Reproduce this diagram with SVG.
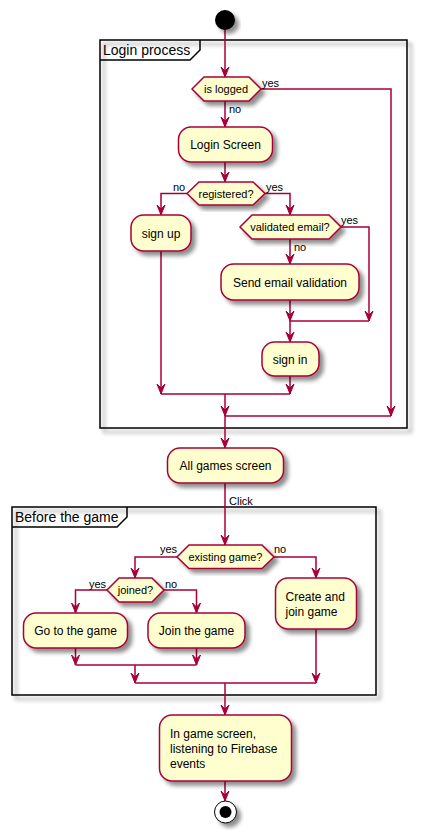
<svg xmlns="http://www.w3.org/2000/svg" width="423" height="839" viewBox="0 0 423 839">
<defs>
<filter id="sh" x="-20%" y="-20%" width="150%" height="150%">
<feGaussianBlur in="SourceAlpha" stdDeviation="2" result="b"/>
<feOffset in="b" dx="4" dy="4" result="o"/>
<feComponentTransfer in="o" result="c"><feFuncA type="linear" slope="0.45"/></feComponentTransfer>
<feMerge><feMergeNode in="c"/><feMergeNode in="SourceGraphic"/></feMerge>
</filter>
<marker id="ah" markerWidth="10" markerHeight="12" viewBox="-5 -11 10 12" refX="0" refY="0" orient="auto-start-reverse" markerUnits="userSpaceOnUse">
<path d="M-4,-10 L0,0 L4,-10 L0,-6 Z" fill="#A80036" stroke="#A80036" stroke-width="1" transform="rotate(-90)"/>
</marker>
</defs>
<style>
.act{fill:#FEFECE;stroke:#A80036;stroke-width:1.5;filter:url(#sh)}
.frm{fill:none;stroke:#000;stroke-width:1.5;filter:url(#sh)}
.ln{fill:none;stroke:#A80036;stroke-width:1.5}
.t12{font-family:"Liberation Sans",Arial,sans-serif;font-size:12px;fill:#000}
.t11{font-family:"Liberation Sans",Arial,sans-serif;font-size:11px;fill:#000}
.t14{font-family:"Liberation Sans",Arial,sans-serif;font-size:14px;fill:#000}
.c{text-anchor:middle}
.ar{fill:#A80036;stroke:#A80036;stroke-width:1}
</style>
<rect width="423" height="839" fill="#fff"/>

<g id="frame-login">
<rect class="frm" x="100" y="40" width="307" height="388"/>
<path d="M100,60 L190,60 L200,50 L200,40" fill="none" stroke="#000" stroke-width="1.5"/>
<text class="t14" x="103" y="55">Login process</text>
</g>
<g id="frame-before">
<rect class="frm" x="12" y="507" width="364" height="188"/>
<path d="M12,527 L117,527 L127,517 L127,507" fill="none" stroke="#000" stroke-width="1.5"/>
<text class="t14" x="15" y="522">Before the game</text>
</g>

<g id="connectors">
<!-- start to is logged -->
<path class="ln" d="M225,30 V77"/>
<path class="ar" d="M221,67 L225,77 L229,67 L225,71 Z"/>
<!-- yes -->
<path class="ln" d="M261,89 H391 V416"/>
<path class="ar" d="M387,406 L391,416 L395,406 L391,410 Z"/>
<text class="t11" x="262" y="87">yes</text>
<!-- no -->
<path class="ln" d="M225,101 V127"/>
<path class="ar" d="M221,117 L225,127 L229,117 L225,121 Z"/>
<text class="t11" x="229" y="113">no</text>
<!-- login screen to registered -->
<path class="ln" d="M225,162 V182"/>
<path class="ar" d="M221,172 L225,182 L229,172 L225,176 Z"/>
<!-- registered no -->
<path class="ln" d="M187,193.5 H161 V215"/>
<path class="ar" d="M157,205 L161,215 L165,205 L161,209 Z"/>
<text class="t11" x="173" y="191">no</text>
<!-- registered yes -->
<path class="ln" d="M265,193.5 H290 V215"/>
<path class="ar" d="M286,205 L290,215 L294,205 L290,209 Z"/>
<text class="t11" x="266" y="191">yes</text>
<!-- validated yes -->
<path class="ln" d="M341,227 H369 V321"/>
<path class="ar" d="M365,311 L369,321 L373,311 L369,315 Z"/>
<text class="t11" x="341" y="224">yes</text>
<!-- validated no -->
<path class="ln" d="M290,239 V264"/>
<path class="ar" d="M286,254 L290,264 L294,254 L290,258 Z"/>
<text class="t11" x="294" y="251">no</text>
<!-- send to merge -->
<path class="ln" d="M290,300 V321"/>
<path class="ar" d="M286,311 L290,321 L294,311 L290,315 Z"/>
<path class="ln" d="M290,321 H369"/>
<!-- merge to sign in -->
<path class="ln" d="M290,321 V342"/>
<path class="ar" d="M286,332 L290,342 L294,332 L290,336 Z"/>
<!-- sign in down -->
<path class="ln" d="M290,376 V394"/>
<path class="ar" d="M286,384 L290,394 L294,384 L290,388 Z"/>
<!-- sign up down -->
<path class="ln" d="M161,251 V394"/>
<path class="ar" d="M157,384 L161,394 L165,384 L161,388 Z"/>
<path class="ln" d="M161,394 H290"/>
<!-- to big merge -->
<path class="ln" d="M225,394 V416"/>
<path class="ar" d="M221,406 L225,416 L229,406 L225,410 Z"/>
<path class="ln" d="M225,416 H391"/>
<!-- to all games -->
<path class="ln" d="M225,416 V448"/>
<path class="ar" d="M221,438 L225,448 L229,438 L225,442 Z"/>
<!-- all games to existing -->
<path class="ln" d="M225,483 V545"/>
<path class="ar" d="M221,535 L225,545 L229,535 L225,539 Z"/>
<text class="t11" x="229" y="505">Click</text>
<!-- existing yes -->
<path class="ln" d="M177,557 H135 V578"/>
<path class="ar" d="M131,568 L135,578 L139,568 L135,572 Z"/>
<text class="t11" x="160" y="553">yes</text>
<!-- existing no -->
<path class="ln" d="M274,557 H316 V578"/>
<path class="ar" d="M312,568 L316,578 L320,568 L316,572 Z"/>
<text class="t11" x="274" y="553">no</text>
<!-- joined yes -->
<path class="ln" d="M107,590 H75.5 V613"/>
<path class="ar" d="M71.5,603 L75.5,613 L79.5,603 L75.5,607 Z"/>
<text class="t11" x="89" y="588">yes</text>
<!-- joined no -->
<path class="ln" d="M164,590 H196.5 V613"/>
<path class="ar" d="M192.5,603 L196.5,613 L200.5,603 L196.5,607 Z"/>
<text class="t11" x="165" y="588">no</text>
<!-- go/join down -->
<path class="ln" d="M75.5,648 V665"/>
<path class="ar" d="M71.5,655 L75.5,665 L79.5,655 L75.5,659 Z"/>
<path class="ln" d="M196.5,648 V665"/>
<path class="ar" d="M192.5,655 L196.5,665 L200.5,655 L196.5,659 Z"/>
<path class="ln" d="M75.5,665 H196.5"/>
<path class="ln" d="M135,665 V683"/>
<path class="ar" d="M131,673 L135,683 L139,673 L135,677 Z"/>
<path class="ln" d="M316,629 V683"/>
<path class="ar" d="M312,673 L316,683 L320,673 L316,677 Z"/>
<path class="ln" d="M135,683 H316"/>
<!-- to in game -->
<path class="ln" d="M225,683 V715"/>
<path class="ar" d="M221,705 L225,715 L229,705 L225,709 Z"/>
<!-- to end -->
<path class="ln" d="M225,781 V801"/>
<path class="ar" d="M221,791 L225,801 L229,791 L225,795 Z"/>
</g>

<g id="start"><circle cx="225" cy="20" r="10" fill="#000" filter="url(#sh)"/></g>

<g id="is-logged">
<polygon class="act" points="192,89 204,77 249,77 261,89 249,101 204,101"/>
<text class="t11 c" x="226" y="93">is logged</text>
</g>
<g id="login-screen">
<rect class="act" x="178.5" y="127" width="94" height="35" rx="12.5"/>
<text class="t12 c" x="225.5" y="148.5">Login Screen</text>
</g>
<g id="registered">
<polygon class="act" points="187,193.5 199,182 253,182 265,193.5 253,205 199,205"/>
<text class="t11 c" x="226" y="197.5">registered?</text>
</g>
<g id="sign-up">
<rect class="act" x="131" y="215" width="60" height="36" rx="12.5"/>
<text class="t12 c" x="161" y="237.5">sign up</text>
</g>
<g id="validated-email">
<polygon class="act" points="240,227 252,215 329,215 341,227 329,239 252,239"/>
<text class="t11 c" x="290" y="231">validated email?</text>
</g>
<g id="send-email">
<rect class="act" x="221" y="264" width="138" height="36" rx="12.5"/>
<text class="t12 c" x="290" y="286.5">Send email validation</text>
</g>
<g id="sign-in">
<rect class="act" x="262" y="342" width="57" height="34" rx="12.5"/>
<text class="t12 c" x="290" y="363.5">sign in</text>
</g>
<g id="all-games">
<rect class="act" x="167.5" y="448" width="116" height="35" rx="12.5"/>
<text class="t12 c" x="225.5" y="470">All games screen</text>
</g>
<g id="existing-game">
<polygon class="act" points="177,557 189,545 262,545 274,557 262,568.5 189,568.5"/>
<text class="t11 c" x="225.5" y="561">existing game?</text>
</g>
<g id="joined">
<polygon class="act" points="107,590 119,578 152,578 164,590 152,602 119,602"/>
<text class="t11 c" x="135.5" y="594">joined?</text>
</g>
<g id="go-to-game">
<rect class="act" x="23.5" y="613" width="104" height="35" rx="12.5"/>
<text class="t12 c" x="75.5" y="634.5">Go to the game</text>
</g>
<g id="join-game">
<rect class="act" x="148" y="613" width="97" height="35" rx="12.5"/>
<text class="t12 c" x="196.5" y="634.5">Join the game</text>
</g>
<g id="create-join">
<rect class="act" x="275.5" y="578" width="81" height="51" rx="12.5"/>
<text class="t12" x="285.5" y="601">Create and</text>
<text class="t12" x="285.5" y="616">join game</text>
</g>
<g id="in-game">
<rect class="act" x="159.5" y="715" width="132" height="66" rx="12.5"/>
<text class="t12" x="170" y="737.5">In game screen,</text>
<text class="t12" x="170" y="753">listening to Firebase</text>
<text class="t12" x="170" y="768">events</text>
</g>
<g id="end">
<circle cx="225.5" cy="812" r="11" fill="#fff" stroke="#000" stroke-width="1" filter="url(#sh)"/>
<circle cx="225.5" cy="812" r="6" fill="#000"/>
</g>
</svg>
